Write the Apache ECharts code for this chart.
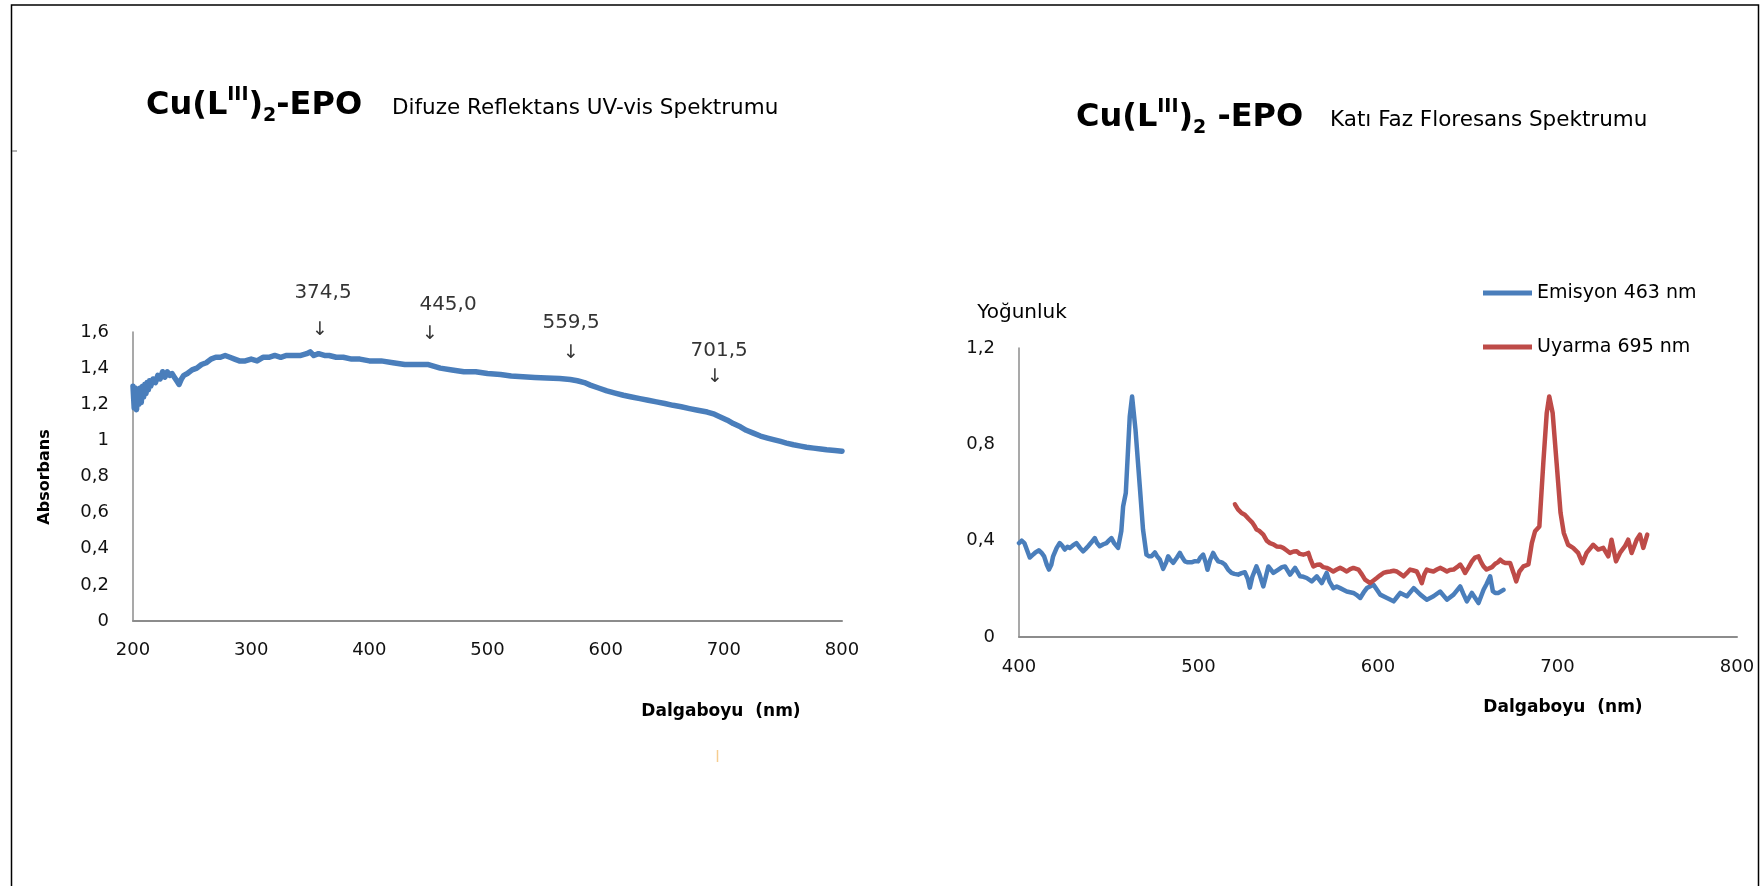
<!DOCTYPE html>
<html>
<head>
<meta charset="utf-8">
<script src="https://cdn.jsdelivr.net/npm/echarts@6/dist/echarts.min.js"></script>
<style>
  html, body { margin: 0; padding: 0; background: #fff; }
  #chart { width: 1762px; height: 886px; }
</style>
</head>
<body>
<div id="chart"></div>
<script>
// ---------- DATA ----------
// Left: diffuse reflectance UV-vis spectrum
const uvWavelength = [200,201,202,203,204,205,206,207,208,209,210,211,212,213,214,215,217,219,221,223,225,227,229,231,233,235,237,239,241,243,246,250,254,258,262,266,270,274,278,282,286,290,295,300,305,310,315,320,325,330,336,342,347,350,353,357,362,366,372,378,385,392,400,410,420,430,440,450,460,470,480,490,500,511,520,530,540,550,561,570,576,582,587,594,601,608,615,622,629,636,643,650,657,664,671,678,686,692,697,703,708,714,719,725,731,737,742,748,753,759,765,770,776,782,787,794,800];
const uvAbsorbance = [1.30,1.18,1.29,1.17,1.28,1.20,1.29,1.21,1.30,1.24,1.31,1.26,1.32,1.28,1.33,1.30,1.34,1.32,1.36,1.34,1.38,1.35,1.38,1.36,1.37,1.35,1.33,1.31,1.34,1.36,1.37,1.39,1.40,1.42,1.43,1.45,1.46,1.46,1.47,1.46,1.45,1.44,1.44,1.45,1.44,1.46,1.46,1.47,1.46,1.47,1.47,1.47,1.48,1.49,1.47,1.48,1.47,1.47,1.46,1.46,1.45,1.45,1.44,1.44,1.43,1.42,1.42,1.42,1.40,1.39,1.38,1.38,1.37,1.365,1.356,1.352,1.348,1.345,1.343,1.337,1.33,1.32,1.306,1.29,1.274,1.262,1.25,1.24,1.231,1.222,1.213,1.204,1.194,1.186,1.176,1.167,1.157,1.145,1.13,1.112,1.093,1.075,1.056,1.04,1.024,1.013,1.004,0.994,0.985,0.976,0.968,0.962,0.957,0.952,0.948,0.944,0.94];

// Peak annotations (label text, label position, arrow position in data units)
const peakLabels = ['374,5','445,0','559,5','701,5'];
const peakLabelX = [360.8, 466.6, 570.7, 696.0];
const peakLabelY = [1.817, 1.75, 1.65, 1.494];
const arrowX = [358.3, 451.3, 570.7, 692.5];
const arrowY = [1.611, 1.589, 1.483, 1.353];

// Right: solid-state fluorescence spectrum
const emWavelength = [400,401.5,403,404.5,406,407.5,409,411,412.5,414,415.5,416.7,418,419,421,422.7,424,425.5,427,428.3,430,432,434,435.7,437,438.5,440,442.2,443.5,445,447,448.7,450,451.5,453,455.2,457,458,459.5,461.7,463,464.9,467.3,469.1,471,472.5,473.8,475.7,477,478.5,480.3,482,483.1,484.5,485.9,488,489.6,491,492.4,494,496.1,498,499.8,501,502.6,504,505,506.5,508.2,509.5,511,513,514.7,516.5,518.4,520,522.1,524,525.8,527.5,528.6,530,532.3,534,536.1,537.5,538.9,541.7,544.5,546.5,548.2,551,553.8,556.6,558.5,560.3,563.1,565.9,568.7,571.4,573,575.1,577,578.9,582.6,586.3,588,590.1,592,593.8,597.5,599.5,601.2,605,608.7,610.5,612.4,616.1,619.9,623.6,627.2,630.9,634.6,638.4,642.1,645.8,647.5,649.5,652.3,656,658.8,660.5,662.5,664,665.3,667.1,669.9];
const emIntensity = [0.39,0.40,0.39,0.36,0.33,0.34,0.35,0.36,0.35,0.335,0.30,0.28,0.30,0.335,0.37,0.39,0.38,0.363,0.375,0.37,0.38,0.39,0.37,0.356,0.365,0.377,0.39,0.411,0.39,0.377,0.385,0.39,0.40,0.411,0.39,0.37,0.44,0.542,0.598,0.916,0.999,0.861,0.625,0.446,0.342,0.335,0.335,0.351,0.335,0.321,0.283,0.31,0.335,0.32,0.308,0.33,0.349,0.33,0.314,0.31,0.31,0.315,0.314,0.33,0.342,0.31,0.279,0.32,0.349,0.33,0.314,0.31,0.301,0.28,0.266,0.262,0.259,0.265,0.269,0.24,0.205,0.25,0.293,0.26,0.21,0.25,0.293,0.266,0.28,0.29,0.293,0.259,0.287,0.252,0.25,0.245,0.231,0.252,0.224,0.266,0.23,0.203,0.21,0.203,0.189,0.183,0.175,0.162,0.185,0.203,0.217,0.195,0.176,0.162,0.148,0.165,0.183,0.169,0.203,0.176,0.155,0.169,0.189,0.155,0.176,0.21,0.18,0.148,0.183,0.141,0.196,0.22,0.252,0.19,0.183,0.183,0.196];

const exWavelength = [520.3,522,524,525.8,528,530,531.4,532.3,534,536.1,538,539.8,541.7,543.5,545.5,547.2,549,551,553,554.7,556.5,558.4,560,561.2,562.5,564,566,567.7,569.5,571.4,573.3,575.1,577,578.9,580.8,582.6,584.5,586.3,589.1,591,592.8,595.6,597.5,599.3,601,603,604.9,606.8,608.7,610.5,612.4,614.2,616,617.9,619.8,621.6,623,624.4,625.8,627.2,629,630.9,632.8,634.6,636.5,638.4,640,642.1,644,645.8,647.2,648.5,650.5,652.3,654,656,657.5,658.8,660.5,661.6,663.5,665.3,666.7,668.1,669.5,670.9,673.6,675.5,677,678.8,681,683.8,685.7,687.5,689.9,692.1,694,695.4,697.3,699.5,701.7,703.5,705.9,708.7,711.5,713.9,716.2,719.9,722.7,725.5,728.3,730.1,732.6,734.8,737.6,739.4,741.3,744.1,745.9,747.8,750];
const exIntensity = [0.551,0.53,0.515,0.508,0.49,0.475,0.459,0.446,0.44,0.425,0.40,0.39,0.385,0.376,0.375,0.37,0.36,0.349,0.355,0.356,0.345,0.342,0.345,0.349,0.32,0.293,0.30,0.301,0.29,0.287,0.28,0.272,0.28,0.287,0.28,0.272,0.282,0.287,0.28,0.26,0.238,0.224,0.235,0.245,0.255,0.266,0.27,0.272,0.275,0.272,0.262,0.252,0.265,0.28,0.276,0.272,0.25,0.224,0.26,0.28,0.275,0.272,0.28,0.287,0.28,0.272,0.278,0.28,0.29,0.301,0.285,0.266,0.29,0.314,0.33,0.335,0.31,0.293,0.28,0.272,0.29,0.304,0.31,0.321,0.312,0.307,0.307,0.266,0.231,0.272,0.293,0.301,0.39,0.439,0.459,0.723,0.93,0.999,0.93,0.723,0.515,0.432,0.383,0.37,0.349,0.307,0.349,0.383,0.363,0.37,0.335,0.404,0.314,0.349,0.377,0.404,0.349,0.404,0.425,0.37,0.425];

const seriesNames = ['Emisyon 463 nm', 'Uyarma 695 nm'];

// ---------- CHART ----------
const FONT = 'DejaVu Sans';
const BLUE = '#4A7EBB';
const RED = '#BE4B48';
const AXIS_GREY = '#8c8c8c';

const zip = (a, b) => a.map((v, i) => [v, b[i]]);
const commaFmt = v => String(+v.toFixed(1)).replace('.', ',');

const chart = echarts.init(document.getElementById('chart'), null, { renderer: 'canvas' });

function axisX(idx, min, max, margin) {
  return {
    type: 'value', gridIndex: idx, min: min, max: max, interval: 100,
    axisLine: { show: true, onZero: false, lineStyle: { color: AXIS_GREY, width: 2 } },
    axisTick: { show: false },
    splitLine: { show: false },
    axisLabel: { margin: margin, fontFamily: FONT, fontSize: 18, color: '#111' }
  };
}
function axisY(idx, min, max, interval) {
  return {
    type: 'value', gridIndex: idx, min: min, max: max, interval: interval,
    axisLine: { show: true, lineStyle: { color: AXIS_GREY, width: 1.5 } },
    axisTick: { show: false },
    splitLine: { show: false },
    axisLabel: { margin: 24, fontFamily: FONT, fontSize: 18, color: '#111', formatter: commaFmt }
  };
}

const titleRich = {
  m: { fontFamily: FONT, fontWeight: 'bold', fontSize: 32, lineHeight: 40, color: '#000' },
  sup: { fontFamily: FONT, fontWeight: 'bold', fontSize: 19, lineHeight: 35, verticalAlign: 'top', color: '#000' },
  sub: { fontFamily: FONT, fontWeight: 'bold', fontSize: 19, lineHeight: 10, verticalAlign: 'bottom', color: '#000' }
};

const option = {
  animation: false,
  backgroundColor: '#ffffff',
  title: [
    { text: '{m|Cu(L}{sup|III}{m|)}{sub|2}{m|-EPO}', left: 146, top: 86, padding: 0, textStyle: { rich: titleRich } },
    { text: 'Difuze Reflektans UV-vis Spektrumu', left: 392, top: 96, padding: 0,
      textStyle: { fontFamily: FONT, fontWeight: 'normal', fontSize: 21.5, lineHeight: 24, color: '#000' } },
    { text: '{m|Cu(L}{sup|III}{m|)}{sub|2}{m| -EPO}', left: 1076, top: 98, padding: 0, textStyle: { rich: titleRich } },
    { text: 'Katı Faz Floresans Spektrumu', left: 1330, top: 108, padding: 0,
      textStyle: { fontFamily: FONT, fontWeight: 'normal', fontSize: 21.5, lineHeight: 24, color: '#000' } }
  ],
  legend: {
    data: seriesNames,
    orient: 'vertical',
    left: 1483, top: 283,
    padding: 0,
    icon: 'rect',
    itemWidth: 49, itemHeight: 5,
    itemGap: 34,
    textStyle: { fontFamily: FONT, fontSize: 19, lineHeight: 20, color: '#000' }
  },
  grid: [
    { left: 133, top: 332, width: 709, height: 289 },
    { left: 1019, top: 348, width: 718, height: 289 }
  ],
  xAxis: [ axisX(0, 200, 800, 20), axisX(1, 400, 800, 21) ],
  yAxis: [ axisY(0, 0, 1.6, 0.2), axisY(1, 0, 1.2, 0.4) ],
  series: [
    {
      name: 'Absorbans', type: 'line', xAxisIndex: 0, yAxisIndex: 0,
      data: zip(uvWavelength, uvAbsorbance),
      showSymbol: false, symbol: 'none',
      lineStyle: { color: BLUE, width: 5.5, join: 'round', cap: 'round' }, itemStyle: { color: BLUE }
    },
    {
      name: 'peak labels', type: 'scatter', xAxisIndex: 0, yAxisIndex: 0, clip: false, silent: true,
      symbolSize: 1, itemStyle: { color: 'rgba(0,0,0,0)' },
      data: peakLabels.map((t, i) => ({ name: t, value: [peakLabelX[i], peakLabelY[i]] })),
      label: { show: true, position: 'inside', formatter: '{b}', fontFamily: FONT, fontSize: 20, color: '#000' }
    },
    {
      name: 'peak arrows', type: 'scatter', xAxisIndex: 0, yAxisIndex: 0, clip: false, silent: true,
      symbolSize: 1, itemStyle: { color: 'rgba(0,0,0,0)' },
      data: arrowX.map((x, i) => ({ name: '↓', value: [x, arrowY[i]] })),
      label: { show: true, position: 'inside', formatter: '{b}', fontFamily: FONT, fontSize: 19, color: '#000' }
    },
    {
      name: seriesNames[0], type: 'line', xAxisIndex: 1, yAxisIndex: 1,
      data: zip(emWavelength, emIntensity),
      showSymbol: false, symbol: 'none',
      lineStyle: { color: BLUE, width: 4.5, join: 'round', cap: 'round' }, itemStyle: { color: BLUE }
    },
    {
      name: seriesNames[1], type: 'line', xAxisIndex: 1, yAxisIndex: 1,
      data: zip(exWavelength, exIntensity),
      showSymbol: false, symbol: 'none',
      lineStyle: { color: RED, width: 4.5, join: 'round', cap: 'round' }, itemStyle: { color: RED }
    }
  ],
  graphic: [
    { type: 'rect', silent: true, shape: { x: 11.5, y: 5, width: 1747, height: 900 },
      style: { fill: 'none', stroke: '#000', lineWidth: 1.5 } },
    { type: 'line', silent: true, shape: { x1: 12, y1: 151, x2: 17, y2: 151 },
      style: { stroke: '#666', lineWidth: 1 } },
    { type: 'line', silent: true, shape: { x1: 717.5, y1: 750, x2: 717.5, y2: 762 },
      style: { stroke: '#F6CD90', lineWidth: 1.5 } },
    { type: 'text', silent: true, x: 45, y: 477, rotation: Math.PI / 2,
      style: { text: 'Absorbans', fontFamily: FONT, fontWeight: 'bold', fontSize: 16, fill: '#000',
               align: 'center', verticalAlign: 'middle' } },
    { type: 'text', silent: true, x: 721, y: 712,
      style: { text: 'Dalgaboyu  (nm)', fontFamily: FONT, fontWeight: 'bold', fontSize: 17, fill: '#000',
               align: 'center', verticalAlign: 'middle' } },
    { type: 'text', silent: true, x: 1563, y: 708,
      style: { text: 'Dalgaboyu  (nm)', fontFamily: FONT, fontWeight: 'bold', fontSize: 17, fill: '#000',
               align: 'center', verticalAlign: 'middle' } },
    { type: 'text', silent: true, x: 1022, y: 313,
      style: { text: 'Yoğunluk', fontFamily: FONT, fontSize: 20, fill: '#000',
               align: 'center', verticalAlign: 'middle' } }
  ]
};

chart.setOption(option);
</script>
</body>
</html>
